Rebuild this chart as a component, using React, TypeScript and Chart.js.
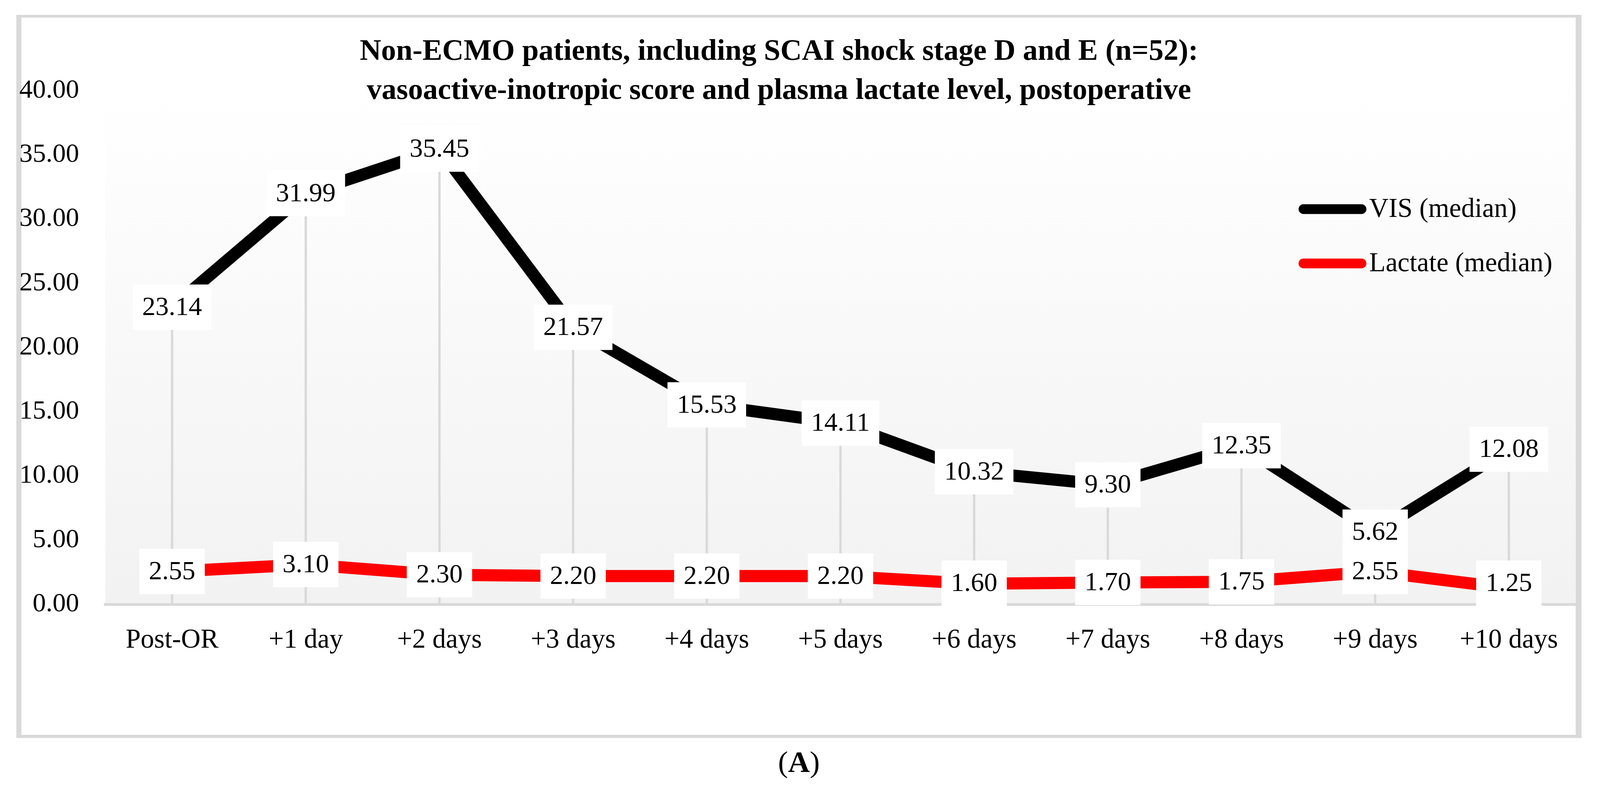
import React, { useEffect, useRef, useState } from 'react';
import { Chart, registerables } from 'chart.js';

Chart.register(...registerables);

const categories = ['Post-OR', '+1 day', '+2 days', '+3 days', '+4 days', '+5 days', '+6 days', '+7 days', '+8 days', '+9 days', '+10 days'];
const visMedian = [23.14, 31.99, 35.45, 21.57, 15.53, 14.11, 10.32, 9.30, 12.35, 5.62, 12.08];
const lactateMedian = [2.55, 3.10, 2.30, 2.20, 2.20, 2.20, 1.60, 1.70, 1.75, 2.55, 1.25];
const seriesNames = ['VIS (median)', 'Lactate (median)'];
const seriesColors = ['#000000', '#ff0000'];
const yMin = 0;
const yMax = 40;
const yStep = 5;
const titleLines = [
  'Non-ECMO patients, including SCAI shock stage D and E (n=52):',
  'vasoactive-inotropic score and plasma lactate level, postoperative',
];
const captionParts = ['(', 'A', ')'];

// design reference size
const RW = 4408;
const RH = 2016;
const FONT = '"Liberation Serif", "Times New Roman", serif';
const GRAY = '#d9d9d9';

export default function App() {
  const ref = useRef<HTMLCanvasElement | null>(null);
  const [size] = useState(() => ({
    w: Math.min(window.innerWidth || RW, RW),
    h: Math.min(window.innerHeight || RH, RH),
  }));

  useEffect(() => {
    if (!ref.current) return;
    const kx = size.w / RW;
    const ky = size.h / RH;
    const kf = (kx + ky) / 2;
    const X = (v: number) => v * kx;
    const Y = (v: number) => v * ky;
    const F = (v: number) => Math.round(v * kf);

    const framePlugin = {
      id: 'frame',
      beforeDraw(chart: any) {
        const ctx = chart.ctx;
        const a = chart.chartArea;
        ctx.save();
        ctx.fillStyle = GRAY;
        ctx.fillRect(X(45), Y(38), X(14), Y(1850));
        ctx.fillRect(a.right, Y(38), X(16), Y(1850));
        ctx.fillRect(X(45), Y(38), a.right + X(16) - X(45), Y(7));
        ctx.fillRect(X(45), Y(1880), a.right + X(16) - X(45), Y(8));
        const g = ctx.createLinearGradient(0, a.top, 0, a.bottom);
        g.addColorStop(0, '#ffffff');
        g.addColorStop(1, '#f2f2f2');
        ctx.fillStyle = g;
        ctx.fillRect(a.left, a.top, a.right - a.left, a.bottom - a.top);
        ctx.restore();
      },
    };

    const dropLinePlugin = {
      id: 'dropLines',
      beforeDatasetsDraw(chart: any) {
        const ctx = chart.ctx;
        const xs = chart.scales.x;
        const ys = chart.scales.y;
        ctx.save();
        ctx.strokeStyle = GRAY;
        ctx.lineWidth = F(6);
        categories.forEach((_, i) => {
          let top = -Infinity;
          chart.data.datasets.forEach((ds: any) => {
            top = Math.max(top, ds.data[i]);
          });
          const x = xs.getPixelForValue(i);
          ctx.beginPath();
          ctx.moveTo(x, ys.getPixelForValue(top));
          ctx.lineTo(x, ys.getPixelForValue(yMin));
          ctx.stroke();
        });
        ctx.restore();
      },
    };

    const valueLabelPlugin = {
      id: 'valueLabels',
      afterDatasetsDraw(chart: any) {
        const ctx = chart.ctx;
        const bottomLimit = chart.chartArea.bottom + Y(4);
        ctx.save();
        ctx.font = `${F(70)}px ${FONT}`;
        ctx.textAlign = 'center';
        ctx.textBaseline = 'middle';
        chart.data.datasets.forEach((ds: any, di: number) => {
          const meta = chart.getDatasetMeta(di);
          meta.data.forEach((pt: any, i: number) => {
            const txt = Number(ds.data[i]).toFixed(2);
            const w = ctx.measureText(txt).width + X(52);
            const h = Y(116);
            let cy = pt.y;
            if (cy + h / 2 > bottomLimit) cy = bottomLimit - h / 2;
            ctx.fillStyle = '#ffffff';
            ctx.fillRect(pt.x - w / 2, cy - h / 2, w, h);
            ctx.fillStyle = '#000000';
            ctx.fillText(txt, pt.x, cy + Y(2));
          });
        });
        ctx.restore();
      },
    };

    const textPlugin = {
      id: 'texts',
      afterDraw(chart: any) {
        const ctx = chart.ctx;
        ctx.save();
        ctx.fillStyle = '#000000';
        ctx.font = `bold ${F(79)}px ${FONT}`;
        ctx.textAlign = 'center';
        ctx.textBaseline = 'alphabetic';
        ctx.fillText(titleLines[0], X(2146), Y(153));
        ctx.fillText(titleLines[1], X(2146), Y(253));

        const legendY = [Y(535), Y(674)];
        chart.data.datasets.forEach((ds: any, i: number) => {
          ctx.strokeStyle = ds.borderColor;
          ctx.lineWidth = F(26);
          ctx.lineCap = 'round';
          ctx.beginPath();
          ctx.moveTo(X(3591), legendY[i]);
          ctx.lineTo(X(3751), legendY[i]);
          ctx.stroke();
          ctx.fillStyle = '#000000';
          ctx.font = `${F(72)}px ${FONT}`;
          ctx.textAlign = 'left';
          ctx.textBaseline = 'alphabetic';
          ctx.fillText(ds.label, X(3772), legendY[i] + Y(20));
        });

        const fonts = [`${F(80)}px ${FONT}`, `bold ${F(80)}px ${FONT}`, `${F(80)}px ${FONT}`];
        let total = 0;
        const widths = captionParts.map((p, i) => {
          ctx.font = fonts[i];
          const w = ctx.measureText(p).width;
          total += w;
          return w;
        });
        let x = X(2201) - total / 2;
        ctx.textAlign = 'left';
        ctx.textBaseline = 'alphabetic';
        captionParts.forEach((p, i) => {
          ctx.font = fonts[i];
          ctx.fillText(p, x, Y(1975));
          x += widths[i];
        });
        ctx.restore();
      },
    };

    const mkDataset = (label: string, data: number[], color: string) => ({
      label,
      data,
      borderColor: color,
      backgroundColor: color,
      borderWidth: F(32),
      borderJoinStyle: 'miter',
      borderCapStyle: 'butt',
      pointRadius: 0,
      pointHoverRadius: 0,
      tension: 0,
      fill: false,
    });

    const chart = new Chart(ref.current, {
      type: 'line',
      data: {
        labels: categories,
        datasets: [
          mkDataset(seriesNames[0], visMedian, seriesColors[0]),
          mkDataset(seriesNames[1], lactateMedian, seriesColors[1]),
        ],
      },
      options: {
        animation: false,
        responsive: false,
        devicePixelRatio: 1,
        events: [],
        layout: { padding: { left: 0, right: X(RW - 4341), top: Y(232), bottom: 0 } },
        plugins: {
          legend: { display: false },
          title: { display: false },
          tooltip: { enabled: false },
        },
        scales: {
          x: {
            type: 'category',
            offset: true,
            grid: { display: false, drawTicks: false },
            border: { display: true, color: GRAY, width: Y(7) },
            ticks: {
              color: '#000000',
              font: { family: FONT, size: F(72) },
              padding: Y(51),
              maxRotation: 0,
              autoSkip: false,
            },
            afterFit: (s: any) => {
              s.height = Y(470);
            },
          },
          y: {
            min: yMin,
            max: yMax,
            grid: { display: false, drawTicks: false },
            border: { display: false },
            ticks: {
              stepSize: yStep,
              color: '#000000',
              font: { family: FONT, size: F(70) },
              padding: X(72),
              callback: (v: any) => Number(v).toFixed(2),
            },
            afterFit: (s: any) => {
              s.width = X(290);
            },
          },
        },
      },
      plugins: [framePlugin, dropLinePlugin, valueLabelPlugin, textPlugin],
    } as any);
    return () => chart.destroy();
  }, [size]);

  return (
    <div style={{ position: 'fixed', left: 0, top: 0, width: size.w, height: size.h, background: '#ffffff' }}>
      <canvas ref={ref} width={size.w} height={size.h} style={{ width: size.w, height: size.h, display: 'block' }} />
    </div>
  );
}
